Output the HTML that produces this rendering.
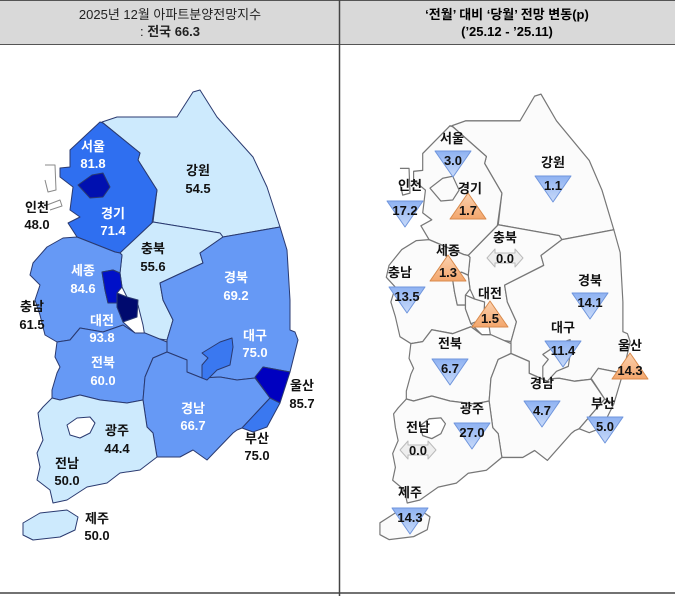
<!DOCTYPE html>
<html><head><meta charset="utf-8"><style>
html,body{margin:0;padding:0;background:#fff}
svg{display:block}
text{font-family:"Liberation Sans","Noto Sans CJK KR",sans-serif;font-weight:bold;font-size:13px;text-anchor:middle}
.w{fill:#fff}.k{fill:#111}
.h{font-weight:normal;font-size:13px;fill:#222}
</style></head><body>
<svg width="675" height="596" viewBox="0 0 675 596" xmlns="http://www.w3.org/2000/svg">
<defs>
<linearGradient id="gb" x1="0" y1="0" x2="0" y2="1"><stop offset="0" stop-color="#8fb2f2"/><stop offset="1" stop-color="#c8daf9"/></linearGradient>
<linearGradient id="go" x1="0" y1="0" x2="0" y2="1"><stop offset="0" stop-color="#fbd2b0"/><stop offset="1" stop-color="#f3a66c"/></linearGradient>
<g id="map">
<polygon id="gw" points="102,122 117,117 177,117 193,92 200,90 217,117 253,157 267,187 280,227 223,237 220,233 153,222 157,190 138,160 140,153"/>
<polygon id="gg" points="70,150 100,122 103,123 140,153 138,160 157,190 152,223 120,253 115,252 77,237 68,223 80,217 70,210 73,187 60,177 60,168 70,167"/>
<polygon id="cb" points="153,222 220,233 223,237 200,253 203,263 160,283 163,300 173,320 167,340 145,337 143,325 138,305 127,297 122,287 120,273 122,255 120,253"/>
<polygon id="gb2" points="223,237 280,227 287,250 290,300 290,330 295,332 298,340 290,372 263,367 255,378 237,380 220,377 202,378 187,372 187,360 167,352 167,340 173,320 163,300 160,283 203,263 200,253"/>
<polygon id="cn" points="33,263 47,247 63,238 77,237 115,252 120,253 122,255 120,273 113,270 102,272 105,290 108,303 117,303 117,307 123,322 135,333 123,325 103,332 80,328 70,340 57,342 45,335 40,315 35,300 40,285 30,275"/>
<polygon id="jb" points="57,342 70,340 80,328 103,332 123,325 135,333 145,333 167,342 167,352 153,358 145,377 143,400 127,403 100,400 80,395 60,400 52,398 52,390 57,373 60,367 55,357"/>
<polygon id="gn" points="167,352 187,360 187,372 202,378 220,377 237,380 255,378 270,398 242,428 237,430 233,433 207,460 193,450 180,457 157,457 153,433 147,427 143,400 145,377 153,358"/>
<polygon id="jn" points="52,398 60,400 80,395 100,400 127,403 143,400 147,427 153,433 157,457 140,470 120,473 107,483 87,487 67,500 53,503 50,490 37,480 40,467 37,453 43,440 40,427 38,413 43,407"/>
<polygon id="jj" points="23,523 40,513 67,510 78,517 75,530 60,537 33,540 23,535"/>
<polygon id="sj" points="102,272 113,270 120,273 122,287 117,293 117,303 108,303 105,290"/>
<polygon id="dj" points="117,293 127,297 138,300 137,317 123,322 117,307"/>
<polygon id="dg" points="202,353 220,342 232,338 233,347 230,365 217,370 207,380 202,378 202,365 208,358"/>
<polygon id="us" points="255,377 263,367 290,372 280,403 270,398"/>
<polygon id="bs" points="270,398 280,403 267,427 253,432 242,428"/>
<polygon id="gj" points="67,425 77,418 90,417 95,423 90,433 80,438 70,435"/>
<polygon id="sl" points="78,185 92,175 103,173 110,187 103,197 90,198"/>
<polyline points="45,165 55,165 56,190 48,192 45,180" fill="#fff"/>
<polyline points="47,205 60,200 62,206 50,210" fill="#fff"/>
</g>
</defs>
<!-- header -->
<rect x="0" y="0" width="675" height="44" fill="#d9d9d9"/>
<line x1="0" y1="0.5" x2="675" y2="0.5" stroke="#555"/>
<line x1="0" y1="44.5" x2="675" y2="44.5" stroke="#555"/>
<line x1="339.5" y1="0" x2="339.5" y2="596" stroke="#444" stroke-width="1.5"/>
<line x1="0" y1="593" x2="675" y2="593" stroke="#444" stroke-width="1.5"/>
<text x="170" y="19" class="h">2025년  12월  아파트분양전망지수</text>
<text x="170" y="36" class="h">: <tspan font-weight="bold">전국  66.3</tspan></text>
<text x="507" y="19" style="font-size:13px">‘전월’ 대비 ‘당월’ 전망  변동(p)</text>
<text x="507" y="36" style="font-size:13px">(’25.12    -  ’25.11)</text>

<!-- left map -->
<g stroke="#2a3a70" stroke-width="1" stroke-linejoin="round">
<use href="#gw" fill="#cdeafd"/><use href="#gg" fill="#2f6ff0"/><use href="#cb" fill="#cdeafd"/>
<use href="#gb2" fill="#6699f5"/><use href="#cn" fill="#6699f5"/><use href="#jb" fill="#6699f5"/>
<use href="#gn" fill="#6699f5"/><use href="#jn" fill="#cdeafd"/><use href="#jj" fill="#cdeafd"/>
<use href="#sj" fill="#0010c8"/><use href="#dj" fill="#000a6e"/><use href="#dg" fill="#3a78f0"/>
<use href="#us" fill="#0000c0"/><use href="#bs" fill="#3a78f0"/><use href="#gj" fill="#fff"/>
<use href="#sl" fill="#0010b0"/>
<polyline points="45,165 55,165 56,190 48,192 45,180" fill="#fff" stroke="#888"/>
<polyline points="47,205 60,200 62,206 50,210" fill="#fff" stroke="#888"/>
</g>
<text x="93" y="151" class="w">서울</text><text x="93" y="168" class="w">81.8</text>
<text x="113" y="218" class="w">경기</text><text x="113" y="235" class="w">71.4</text>
<text x="37" y="212" class="k">인천</text><text x="37" y="229" class="k">48.0</text>
<text x="198" y="175" class="k">강원</text><text x="198" y="193" class="k">54.5</text>
<text x="153" y="253" class="k">충북</text><text x="153" y="271" class="k">55.6</text>
<text x="236" y="282" class="w">경북</text><text x="236" y="300" class="w">69.2</text>
<text x="83" y="275" class="w">세종</text><text x="83" y="293" class="w">84.6</text>
<text x="32" y="311" class="k">충남</text><text x="32" y="329" class="k">61.5</text>
<text x="102" y="325" class="w">대전</text><text x="102" y="342" class="w">93.8</text>
<text x="255" y="340" class="w">대구</text><text x="255" y="357" class="w">75.0</text>
<text x="103" y="367" class="w">전북</text><text x="103" y="385" class="w">60.0</text>
<text x="302" y="390" class="k">울산</text><text x="302" y="408" class="k">85.7</text>
<text x="193" y="413" class="w">경남</text><text x="193" y="430" class="w">66.7</text>
<text x="257" y="443" class="k">부산</text><text x="257" y="460" class="k">75.0</text>
<text x="117" y="435" class="k">광주</text><text x="117" y="453" class="k">44.4</text>
<text x="67" y="468" class="k">전남</text><text x="67" y="485" class="k">50.0</text>
<text x="97" y="523" class="k">제주</text><text x="97" y="540" class="k">50.0</text>

<!-- right map -->
<g transform="translate(359,5) scale(0.91,0.99)" fill="#fbfbfb" stroke="#777" stroke-width="1.3" stroke-linejoin="round">
<use href="#gw"/><use href="#gg"/><use href="#cb"/><use href="#gb2"/><use href="#cn"/><use href="#jb"/>
<use href="#gn"/><use href="#jn"/><use href="#jj"/><use href="#sj"/><use href="#dj"/><use href="#dg"/>
<use href="#us"/><use href="#bs"/><use href="#gj" fill="#fff"/><use href="#sl"/>
<polyline points="45,165 55,165 56,190 48,192 45,180" fill="#fff"/>
</g>
<g stroke-width="1" stroke-linejoin="round">
<!-- down triangles: (cx,y) top at y-9 -->
<g fill="url(#gb)" stroke="#6f95dc">
<polygon points="435,151 471,151 453,177"/>
<polygon points="387,201 423,201 405,227"/>
<polygon points="535,176 571,176 553,202"/>
<polygon points="389,287 425,287 407,313"/>
<polygon points="572,293 608,293 590,319"/>
<polygon points="545,341 581,341 563,367"/>
<polygon points="432,359 468,359 450,385"/>
<polygon points="524,401 560,401 542,427"/>
<polygon points="587,417 623,417 605,443"/>
<polygon points="454,423 490,423 472,449"/>
<polygon points="392,508 428,508 410,534"/>
</g>
<g fill="url(#go)" stroke="#d98a4c">
<polygon points="450,219 486,219 468,193"/>
<polygon points="430,281 466,281 448,255"/>
<polygon points="472,327 508,327 490,301"/>
<polygon points="612,379 648,379 630,353"/>
</g>
<g fill="#eee" stroke="#bbb">
<polygon points="487,258 495,249 495,253 515,253 515,249 523,258 515,267 515,263 495,263 495,267"/>
<polygon points="400,450 408,441 408,445 428,445 428,441 436,450 428,459 428,455 408,455 408,459"/>
</g>
</g>
<g class="k">
<text x="452" y="143">서울</text><text x="453" y="165">3.0</text>
<text x="410" y="190">인천</text><text x="405" y="215">17.2</text>
<text x="470" y="193">경기</text><text x="468" y="215">1.7</text>
<text x="553" y="167">강원</text><text x="553" y="190">1.1</text>
<text x="505" y="242">충북</text><text x="505" y="263">0.0</text>
<text x="448" y="255">세종</text><text x="448" y="277">1.3</text>
<text x="400" y="277">충남</text><text x="407" y="301">13.5</text>
<text x="490" y="298">대전</text><text x="490" y="323">1.5</text>
<text x="590" y="285">경북</text><text x="590" y="307">14.1</text>
<text x="563" y="332">대구</text><text x="563" y="355">11.4</text>
<text x="630" y="350">울산</text><text x="630" y="375">14.3</text>
<text x="450" y="348">전북</text><text x="450" y="373">6.7</text>
<text x="542" y="388">경남</text><text x="542" y="415">4.7</text>
<text x="603" y="408">부산</text><text x="605" y="431">5.0</text>
<text x="472" y="413">광주</text><text x="472" y="437">27.0</text>
<text x="418" y="432">전남</text><text x="418" y="455">0.0</text>
<text x="410" y="497">제주</text><text x="410" y="522">14.3</text>
</g>
</svg>
</body></html>
